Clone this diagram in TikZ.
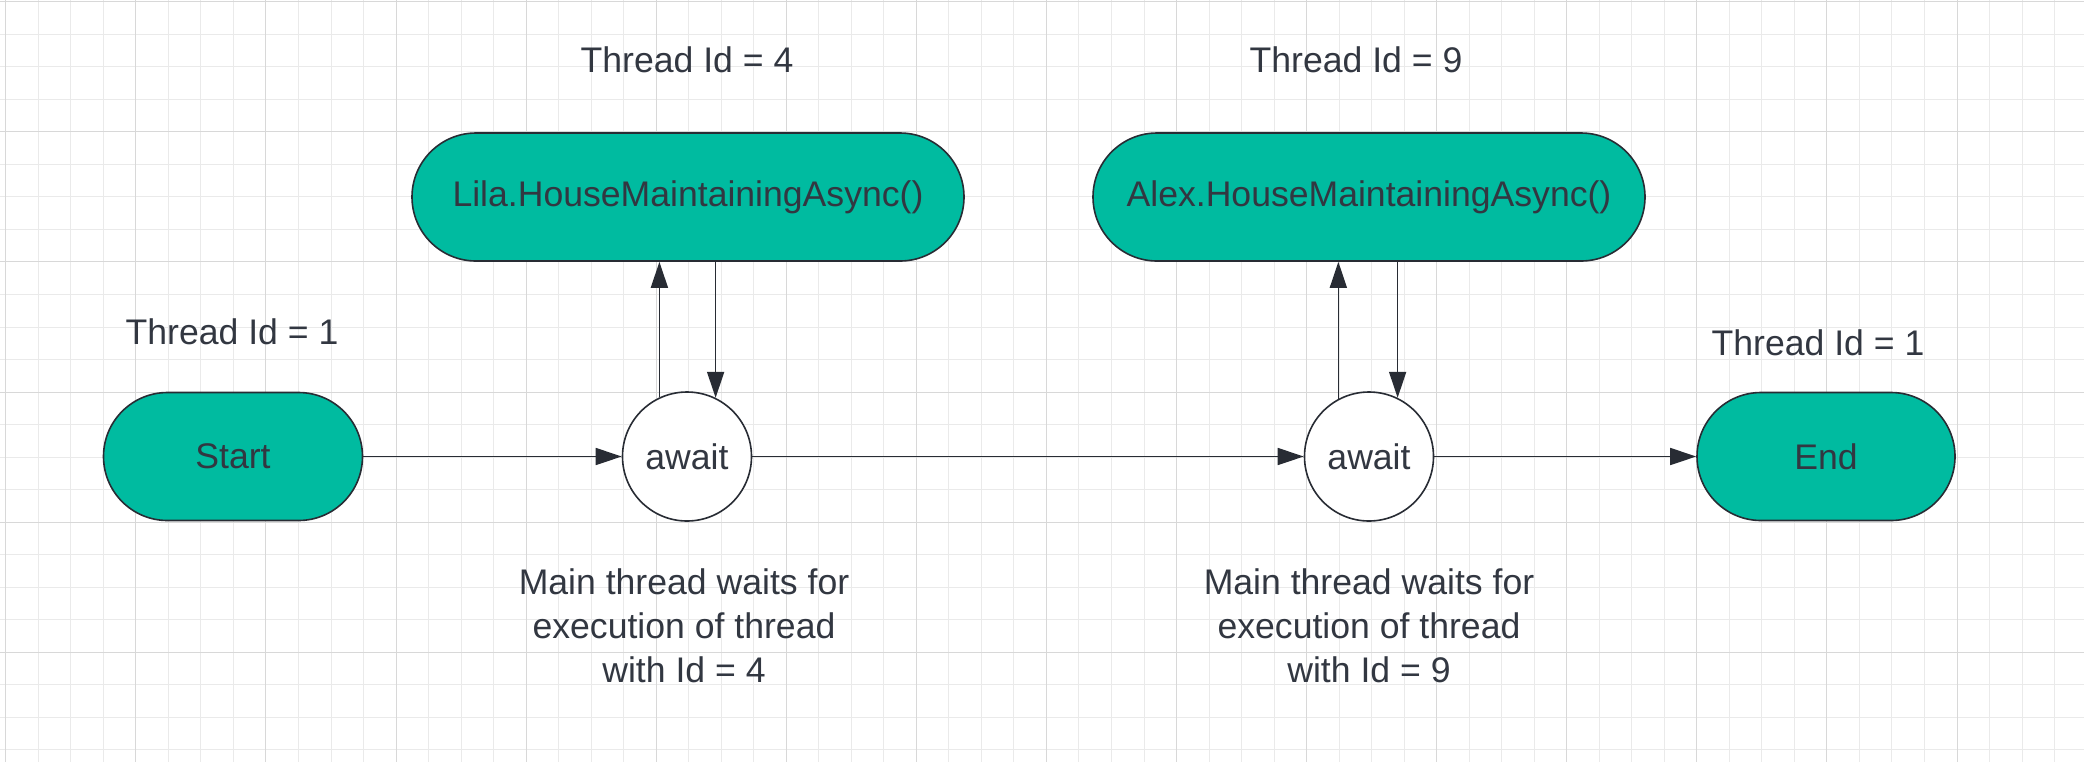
\documentclass[tikz,border=0pt]{standalone}
\usepackage{fontspec}
\setmainfont{Liberation Sans}
\RequirePackage{xcolor}
\definecolor{lcteal}{RGB}{0,187,160}
\definecolor{lcink}{RGB}{40,44,52}
\definecolor{lctext}{RGB}{50,55,65}
\definecolor{gridminor}{RGB}{234,234,234}
\definecolor{gridmajor}{RGB}{216,216,216}
\usetikzlibrary{arrows.meta}
\usetikzlibrary{calc}
\tikzset{
  every node/.style={font=\fontsize{17.8pt}{22pt}\selectfont, text=lctext},
  terminal/.style={draw=lcink, line width=0.8pt, fill=lcteal, rounded corners=32pt, minimum height=64pt},
  awaitnode/.style={draw=lcink, line width=0.8pt, fill=white, circle, minimum size=64.5pt, inner sep=0pt},
  flow/.style={draw=lcink, line width=0.8pt, -{Triangle[length=13pt,width=8.5pt]}},
}

\begin{document}
\begin{tikzpicture}[x=0.5pt, y=-0.5pt]
  \useasboundingbox (0,0) rectangle (2084,762);
  \clip (0,0) rectangle (2084,762);

  % background grid (snapped to pixel centres)
  \foreach \k in {0,...,64} \draw [gridminor, line width=0.5pt] ({round(5.3+32.52*\k)+0.5},0) -- ++(0,762);
  \foreach \k in {0,...,23} \draw [gridminor, line width=0.5pt] (0,{round(1.3+32.52*\k)+0.5}) -- ++(2084,0);
  \foreach \k in {0,...,16} \draw [gridmajor, line width=0.6pt] ({round(5.3+130.08*\k)+0.5},0) -- ++(0,762);
  \foreach \k in {0,...,5} \draw [gridmajor, line width=0.6pt] (0,{round(1.3+130.08*\k)+0.5}) -- ++(2084,0);

  % main thread
  \node [terminal, minimum width=129.5pt] (start) at (233,456.5) {Start};
  \node [awaitnode] (await1) at (687,456.5) {await};
  \node [awaitnode] (await2) at (1369,456.5) {await};
  \node [terminal, minimum width=129pt] (finish) at (1826,456.5) {End};

  % async calls
  \node [terminal, minimum width=276pt] (lila) at (688,197) {Lila.HouseMaintainingAsync()};
  \node [terminal, minimum width=276pt] (alex) at (1369,197) {Alex.HouseMaintainingAsync()};

  \node [anchor=base] (tid1a) at (232,344) {Thread Id = 1};
  \node [anchor=base] (tid4) at (687,72) {Thread Id = 4};
  \node [anchor=base] (tid9) at (1356,72) {Thread Id = 9};
  \node [anchor=base] (tid1b) at (1818,355) {Thread Id = 1};

  \node [align=center] (wait4) at (684,626) {Main thread waits for\\execution of thread\\with Id = 4};
  \node [align=center] (wait9) at (1369,626) {Main thread waits for\\execution of thread\\with Id = 9};

  \draw [flow] (start) -- (await1);
  \draw [flow] (await1) -- (await2);
  \draw [flow] (await2) -- (finish);

  \draw [flow] (await1.115.8) -- (await1.115.8 |- lila.south);
  \draw [flow] (await1.64.2 |- lila.south) -- (await1.64.2);
  \draw [flow] (await2.118) -- (await2.118 |- alex.south);
  \draw [flow] (await2.64.2 |- alex.south) -- (await2.64.2);
\end{tikzpicture}
\end{document}
